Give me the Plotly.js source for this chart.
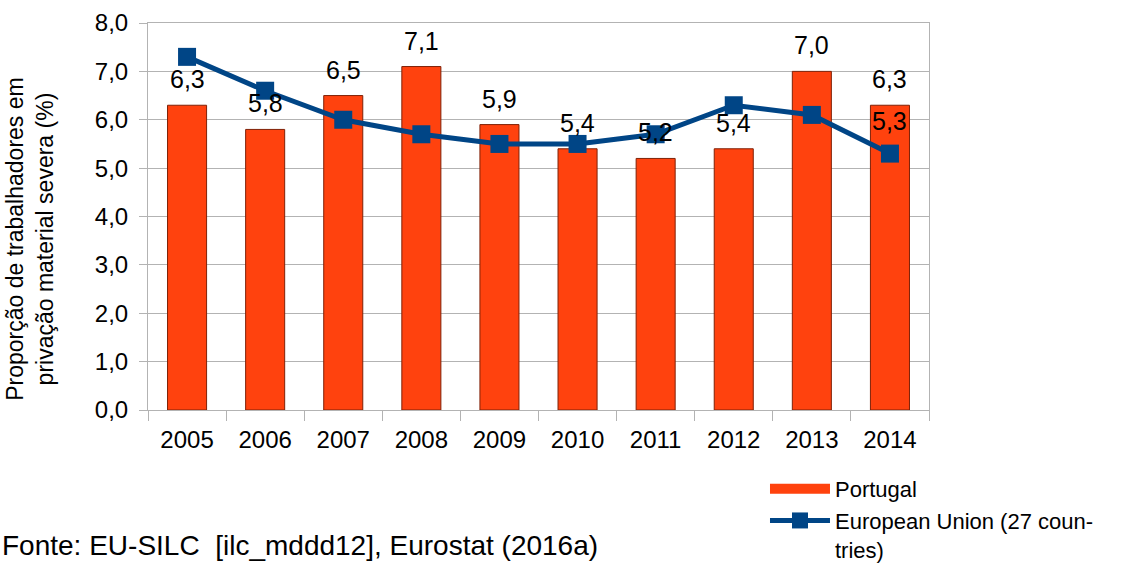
<!DOCTYPE html>
<html>
<head>
<meta charset="utf-8">
<script src="https://cdn.plot.ly/plotly-3.0.1.min.js"></script>
<style>html,body{margin:0;padding:0;background:#fff;}#chart{width:1138px;height:564px;}</style>
</head>
<body>
<div id="chart"></div>
<script>
const years = ['2005','2006','2007','2008','2009','2010','2011','2012','2013','2014'];
const portugal = [6.3, 5.8, 6.5, 7.1, 5.9, 5.4, 5.2, 5.4, 7.0, 6.3];
const eu27 = [7.3, 6.6, 6.0, 5.7, 5.5, 5.5, 5.7, 6.3, 6.1, 5.3];
const euLabelIndex = [9];
const yTicks = [0,1,2,3,4,5,6,7,8];

const fmt = v => v.toFixed(1).replace('.', ',');
const FONT = 'Liberation Sans, Arial, sans-serif';
const ORANGE = '#ff420e';
const BLUE = '#004586';

const traces = [
  {
    type: 'bar', name: 'Portugal', x: years, y: portugal, showlegend: false,
    marker: {color: ORANGE, line: {color: '#7f2107', width: 1}},
    hoverinfo: 'skip'
  },
  {
    // legend-only entry drawn as a wide rectangle, as in the reference
    type: 'scatter', mode: 'lines', name: 'Portugal', x: [null], y: [null],
    line: {color: ORANGE, width: 12}, hoverinfo: 'skip'
  },
  {
    type: 'scatter', mode: 'lines+markers', name: 'European Union (27 coun-<br>tries)',
    x: years, y: eu27,
    line: {color: BLUE, width: 5},
    marker: {symbol: 'square', size: 18, color: BLUE},
    hoverinfo: 'skip'
  }
];

const annotations = [];
years.forEach((yr, i) => {
  annotations.push({
    x: i, y: portugal[i], xref: 'x', yref: 'y', text: fmt(portugal[i]),
    showarrow: false, yanchor: 'bottom', yshift: 10,
    font: {family: FONT, size: 25, color: '#000'}
  });
});
euLabelIndex.forEach(i => {
  annotations.push({
    x: i, y: eu27[i], xref: 'x', yref: 'y', text: fmt(eu27[i]),
    showarrow: false, yanchor: 'bottom', yshift: 17,
    font: {family: FONT, size: 25, color: '#000'}
  });
});
annotations.push({
  xref: 'paper', yref: 'paper', x: -0.19, y: -0.35, xanchor: 'left', yanchor: 'middle',
  text: 'Fonte: EU-SILC &nbsp;[ilc_mddd12], Eurostat (2016a)', showarrow: false,
  font: {family: FONT, size: 28, color: '#000'}
});
annotations.push({
  xref: 'paper', yref: 'paper', x: -0.151, y: 0.44, xanchor: 'center', yanchor: 'middle',
  textangle: -90, showarrow: false,
  text: 'Proporção de trabalhadores em<br>privação material severa (%)',
  font: {family: FONT, size: 23, color: '#000'}
});

const layout = {
  width: 1138, height: 564,
  margin: {l: 148, r: 209, t: 23, b: 154, autoexpand: false},
  paper_bgcolor: '#fff', plot_bgcolor: '#fff',
  font: {family: FONT, size: 22, color: '#000'},
  bargap: 0.5,
  showlegend: true,
  legend: {
    x: 0.79, y: -0.15, xanchor: 'left', yanchor: 'top', valign: 'top',
    font: {family: FONT, size: 22, color: '#000'},
    tracegroupgap: 0, itemwidth: 60, bgcolor: 'rgba(0,0,0,0)'
  },
  xaxis: {
    type: 'category', range: [-0.5, 9.5], tickson: 'boundaries', ticks: 'outside', ticklen: 10,
    tickcolor: '#b3b3b3', showline: true, linecolor: '#b3b3b3', mirror: true,
    showgrid: false, tickfont: {family: FONT, size: 24}, tickangle: 0, ticklabelstandoff: 8,
    automargin: false, fixedrange: true
  },
  yaxis: {
    range: [0, 8], tickvals: yTicks, ticktext: yTicks.map(fmt),
    ticks: 'outside', ticklen: 8, tickcolor: '#b3b3b3',
    showline: true, linecolor: '#b3b3b3', mirror: true,
    showgrid: true, gridcolor: '#b3b3b3', zeroline: false,
    tickfont: {family: FONT, size: 24}, ticklabelstandoff: 6, automargin: false,
    fixedrange: true
  },
  annotations: annotations
};

Plotly.newPlot('chart', traces, layout, {displayModeBar: false, staticPlot: true});
</script>
</body>
</html>
